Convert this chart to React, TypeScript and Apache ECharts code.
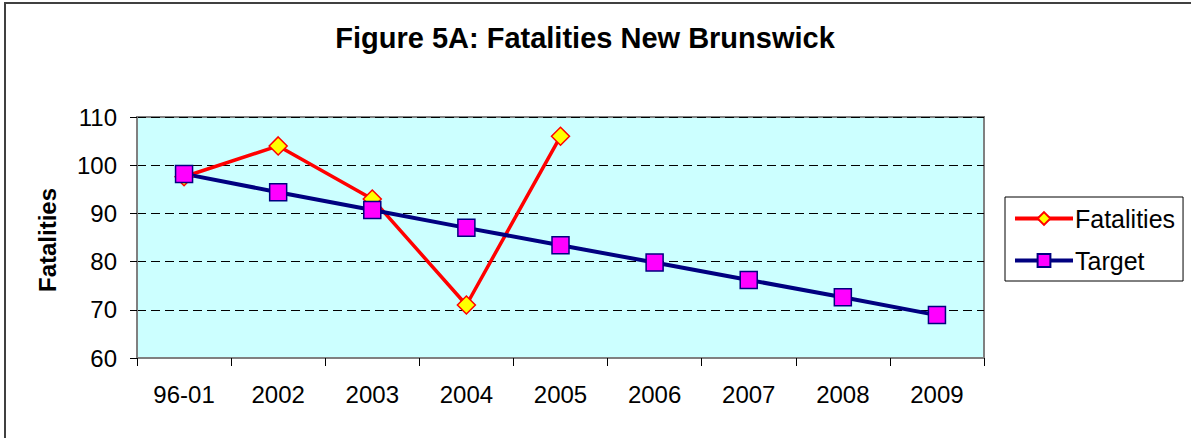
import React, { useEffect, useRef } from "react";
import * as echarts from "echarts";

const categories = ["96-01", "2002", "2003", "2004", "2005", "2006", "2007", "2008", "2009"];
const fatalities = [97.6, 104, 93, 71, 106, null, null, null, null];
const target = [98.2, 94.4, 90.7, 87, 83.4, 79.8, 76.2, 72.6, 68.9];
const yTicks = { min: 60, max: 110, interval: 10 };

const FONT = "'Liberation Sans', Arial, sans-serif";

export default function App() {
  const ref = useRef<HTMLDivElement>(null);
  useEffect(() => {
    document.body.style.margin = "0";
    const chart = echarts.init(ref.current!, undefined, { renderer: "svg" });
    chart.setOption({
      animation: false,
      backgroundColor: "#ffffff",
      textStyle: { fontFamily: FONT },
      graphic: [
        {
          type: "rect",
          shape: { x: 5, y: 3, width: 1400, height: 700 },
          style: { fill: "none", stroke: "#404040", lineWidth: 2 },
          silent: true,
        },
        {
          type: "text",
          x: 585,
          y: 38,
          style: {
            text: "Figure 5A: Fatalities New Brunswick",
            font: `bold 29px ${FONT}`,
            fill: "#000",
            textAlign: "center",
            textVerticalAlign: "middle",
          },
        },
        {
          type: "text",
          x: 47,
          y: 240,
          rotation: Math.PI / 2,
          style: {
            text: "Fatalities",
            font: `bold 24px ${FONT}`,
            fill: "#000",
            textAlign: "center",
            textVerticalAlign: "middle",
          },
        },
      ],
      grid: {
        left: 137,
        top: 117,
        width: 847,
        height: 241,
        show: true,
        backgroundColor: "#CCFFFF",
        borderColor: "#808080",
        borderWidth: 2,
        containLabel: false,
      },
      legend: {
        orient: "vertical",
        left: 1005,
        top: 197,
        padding: [9, 8, 8, 8],
        itemWidth: 58,
        itemHeight: 16,
        itemGap: 17,
        borderColor: "#000",
        borderWidth: 1,
        backgroundColor: "#fff",
        textStyle: { fontFamily: FONT, fontSize: 25, color: "#000", lineHeight: 24, padding: [0, 0, 0, -3] },
        data: [
          { name: "Fatalities", lineStyle: { width: 4, color: "#FF0000" } },
          { name: "Target", lineStyle: { width: 4, color: "#000080" } },
        ],
      },
      xAxis: {
        type: "category",
        data: categories,
        boundaryGap: true,
        axisLine: { show: true, lineStyle: { color: "#808080", width: 2 } },
        axisTick: { show: true, length: 8, lineStyle: { color: "#000", width: 1 } },
        axisLabel: { fontFamily: FONT, fontSize: 24, color: "#000", margin: 24 },
        splitLine: { show: false },
      },
      yAxis: {
        type: "value",
        min: yTicks.min,
        max: yTicks.max,
        interval: yTicks.interval,
        axisLine: { show: true, lineStyle: { color: "#808080", width: 2 } },
        axisTick: { show: true, length: 7, lineStyle: { color: "#000", width: 1 } },
        axisLabel: { fontFamily: FONT, fontSize: 24, color: "#000", margin: 20 },
        splitLine: { show: true, lineStyle: { color: "#000", type: [9, 5], width: 1 } },
      },
      series: [
        {
          name: "Fatalities",
          type: "line",
          data: fatalities,
          symbol: "diamond",
          symbolSize: 18,
          connectNulls: false,
          lineStyle: { color: "#FF0000", width: 3.5 },
          itemStyle: { color: "#FFFF00", borderColor: "#FF0000", borderWidth: 1.5 },
        },
        {
          name: "Target",
          type: "line",
          data: target,
          symbol: "rect",
          symbolSize: 17,
          lineStyle: { color: "#000080", width: 4 },
          itemStyle: { color: "#FF00FF", borderColor: "#000080", borderWidth: 1.5 },
        },
      ],
    });
    return () => chart.dispose();
  }, []);
  return <div ref={ref} style={{ position: "absolute", left: 0, top: 0, width: 1191, height: 438 }} />;
}
